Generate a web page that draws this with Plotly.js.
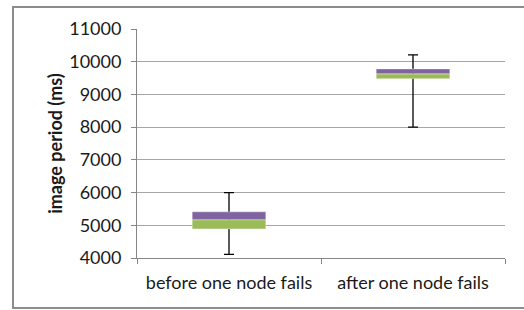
<!DOCTYPE html>
<html>
<head>
<meta charset="utf-8">
<script src="https://cdn.plot.ly/plotly-3.0.1.min.js"></script>
<style>
  html, body { margin: 0; padding: 0; background: #ffffff; }
  #wrap { position: relative; width: 524px; height: 310px; overflow: hidden; }
  #chart { position: absolute; left: 0; top: 0; width: 524px; height: 310px; }
  #frame { position: absolute; left: 12px; top: 6px; width: 620px; height: 303px;
           box-sizing: border-box; border: 2px solid #8c8c8c; pointer-events: none; }
</style>
</head>
<body>
<div id="wrap">
  <div id="chart"></div>
  <div id="frame"></div>
</div>
<script>
const categories = ['before one node fails', 'after one node fails'];
const minVals = [4110, 8000];
const q1Vals = [4890, 9480];
const medianVals = [5170, 9630];
const q3Vals = [5410, 9780];
const maxVals = [6000, 10210];
const yTicks = [4000, 5000, 6000, 7000, 8000, 9000, 10000, 11000];

const FONT = 'Lato, "Open Sans", sans-serif';

const lowerSize = medianVals.map((m, i) => m - q1Vals[i]);
const upperSize = q3Vals.map((q, i) => q - medianVals[i]);

const whiskers = {
  type: 'bar', x: categories, base: q1Vals, y: lowerSize, width: 0.4,
  marker: { color: 'rgba(0,0,0,0)' },
  error_y: {
    type: 'data', symmetric: false,
    array: maxVals.map((v, i) => v - medianVals[i]),
    arrayminus: medianVals.map((m, i) => m - minVals[i]),
    color: '#000000', thickness: 1.3, width: 5
  },
  hoverinfo: 'skip', showlegend: false
};
const lowerBox = {
  type: 'bar', x: categories, base: q1Vals, y: lowerSize, width: 0.4,
  marker: { color: '#9BBB59', line: { color: 'rgba(255,255,255,0.6)', width: 0.6 } },
  showlegend: false
};
const upperBox = {
  type: 'bar', x: categories, base: medianVals, y: upperSize, width: 0.4,
  marker: { color: '#8064A2', line: { color: 'rgba(255,255,255,0.6)', width: 0.6 } },
  showlegend: false
};

const layout = {
  width: 524, height: 310,
  margin: { l: 137, r: 19, t: 29, b: 52, pad: 0 },
  paper_bgcolor: '#ffffff', plot_bgcolor: '#ffffff',
  barmode: 'overlay',
  showlegend: false,
  font: { family: FONT, size: 18, color: '#1a1a1a' },
  xaxis: {
    type: 'category', range: [-0.5, 1.5],
    showline: true, linecolor: '#868686', linewidth: 1,
    ticks: 'outside', tickson: 'boundaries', ticklen: 5, tickcolor: '#868686',
    showgrid: false, zeroline: false,
    tickfont: { family: FONT, size: 18, color: '#1a1a1a' },
    ticklabelstandoff: 8,
    automargin: false
  },
  yaxis: {
    range: [4000, 11000], tickvals: yTicks, ticktext: yTicks.map(String),
    showline: true, linecolor: '#868686', linewidth: 1,
    ticks: 'outside', ticklen: 5, tickcolor: '#868686',
    showgrid: true, gridcolor: '#a6a6a6', gridwidth: 1,
    zeroline: false,
    tickfont: { family: FONT, size: 18, color: '#1a1a1a' },
    ticklabelstandoff: 6,
    title: { text: 'image period (ms)', font: { family: FONT, size: 18, color: '#1a1a1a', weight: 'bold' }, standoff: 1 },
    automargin: false
  }
};

Plotly.newPlot('chart', [whiskers, lowerBox, upperBox], layout, { displayModeBar: false, staticPlot: true });
</script>
</body>
</html>
